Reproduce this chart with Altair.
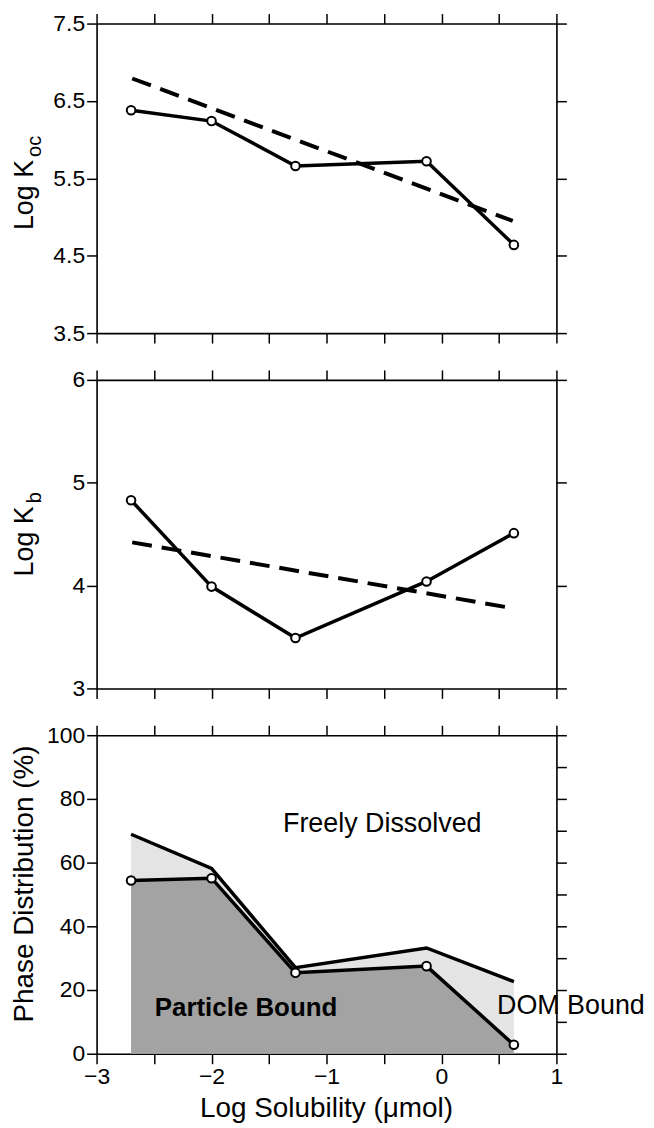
import altair as alt
import pandas as pd

# ---------------- data ----------------
solubility = [-2.70, -2.00, -1.27, -0.13, 0.63]          # Log Solubility (umol)
log_koc = [6.38, 6.24, 5.66, 5.72, 4.64]
koc_fit_x = [-2.69, 0.62]
koc_fit_y = [6.79, 4.95]
log_kb = [4.83, 3.99, 3.49, 4.04, 4.51]
kb_fit_x = [-2.69, 0.62]
kb_fit_y = [4.42, 3.78]
particle_bound = [54.4, 55.1, 25.4, 27.5, 2.8]           # % particle bound
particle_plus_dom = [68.9, 58.2, 27.0, 33.2, 22.6]       # % particle + DOM bound
region_labels = ["Freely Dissolved", "Particle Bound", "DOM Bound"]
region_x = [-0.515, -1.70, 0.483]
region_y = [69.7, 11.9, 12.5]

x_ticks = [-3, -2.5, -2, -1.5, -1, -0.5, 0, 0.5, 1]
koc_ticks = [3.5, 4.5, 5.5, 6.5, 7.5]
kb_ticks = [3, 4, 5, 6]
phase_ticks_left = [0, 20, 40, 60, 80, 100]
phase_ticks_right = [0, 10, 20, 30, 40, 50, 60, 70, 80, 90, 100]

# ---------------- styling ----------------
FONT = "Liberation Sans"
W = 462
H_TOP, H_MID, H_BOT = 311, 310, 320
DARK = "#a3a3a3"
LIGHT = "#e4e4e4"

xs = alt.Scale(domain=[-3, 1], nice=False, zero=False)


def ax(orient, values, labels=False, fmt=None, label_size=23, label_expr=None):
    kw = dict(orient=orient, values=values, title=None, grid=False,
              domain=True, domainColor="black", domainWidth=1.6,
              ticks=True, tickColor="black", tickWidth=1.5, tickSize=10,
              labels=labels)
    if labels:
        kw.update(labelFont=FONT, labelFontSize=label_size, labelColor="black",
                  labelPadding=2, labelFlush=False, labelOverlap=False)
        if fmt:
            kw["format"] = fmt
        if label_expr:
            kw["labelExpr"] = label_expr
    return alt.Axis(**kw)


one = pd.DataFrame({"k": [0]})


def ytitle(main, sub, y_end):
    a = alt.Chart(one).mark_text(text=main, angle=270, align="right", baseline="alphabetic",
                                 font=FONT, fontSize=27, color="black").encode(
        x=alt.value(-64), y=alt.value(y_end))
    b = alt.Chart(one).mark_text(text=sub, angle=270, align="left", baseline="alphabetic",
                                 font=FONT, fontSize=20, color="black").encode(
        x=alt.value(-55.5), y=alt.value(y_end - 3))
    return [a, b]


def line_panel(xv, yv, fx, fy, ys, ticks, fmt, title_main, title_sub, title_end, h):
    df = pd.DataFrame({"x": xv, "y": yv})
    fit = pd.DataFrame({"x": fx, "y": fy})
    solid = alt.Chart(df).mark_line(color="black", strokeWidth=3.5).encode(
        x=alt.X("x:Q", scale=xs, axis=ax("bottom", x_ticks)),
        y=alt.Y("y:Q", scale=ys, axis=ax("left", ticks, labels=True, fmt=fmt)))
    dashed = alt.Chart(fit).mark_line(color="black", strokeWidth=4, strokeDash=[20, 10]).encode(
        x=alt.X("x:Q", scale=xs, axis=ax("top", x_ticks)),
        y=alt.Y("y:Q", scale=ys, axis=ax("right", ticks)))
    pts = alt.Chart(df).mark_point(shape="circle", filled=True, fill="white", stroke="black",
                                   strokeWidth=2, size=75, opacity=1).encode(
        x=alt.X("x:Q", scale=xs, axis=None),
        y=alt.Y("y:Q", scale=ys, axis=None))
    return alt.layer(dashed, solid, pts, *ytitle(title_main, title_sub, title_end)).resolve_axis(
        x="independent", y="independent").properties(width=W, height=h)


top = line_panel(solubility, log_koc, koc_fit_x, koc_fit_y,
                 alt.Scale(domain=[3.5, 7.5], nice=False, zero=False), koc_ticks, ".1f",
                 "Log K", "oc", 137, H_TOP)
mid = line_panel(solubility, log_kb, kb_fit_x, kb_fit_y,
                 alt.Scale(domain=[3, 6], nice=False, zero=False), kb_ticks, "d",
                 "Log K", "b", 127, H_MID)

# ---------------- bottom panel ----------------
phase_df = pd.DataFrame({"x": solubility, "particle": particle_bound, "total": particle_plus_dom})
ys_ph = alt.Scale(domain=[0, 100], nice=False, zero=False)
lab_df = pd.DataFrame({"label": region_labels, "x": region_x, "y": region_y})

dark = alt.Chart(phase_df).mark_area(color=DARK, opacity=1).encode(
    x=alt.X("x:Q", scale=xs, axis=ax("bottom", x_ticks, labels=True, label_size=23,
                                     label_expr="datum.value % 1 == 0 ? format(datum.value, 'd') : ''")),
    y=alt.Y("particle:Q", scale=ys_ph, axis=ax("left", phase_ticks_left, labels=True, fmt="d")))
light = alt.Chart(phase_df).mark_area(color=LIGHT, opacity=1).encode(
    x=alt.X("x:Q", scale=xs, axis=ax("top", x_ticks)),
    y=alt.Y("total:Q", scale=ys_ph, axis=ax("right", phase_ticks_right)),
    y2="particle:Q")
total_line = alt.Chart(phase_df).mark_line(color="black", strokeWidth=3.5).encode(
    x=alt.X("x:Q", scale=xs, axis=None), y=alt.Y("total:Q", scale=ys_ph, axis=None))
part_line = alt.Chart(phase_df).mark_line(color="black", strokeWidth=3.5).encode(
    x=alt.X("x:Q", scale=xs, axis=None), y=alt.Y("particle:Q", scale=ys_ph, axis=None))
part_pts = alt.Chart(phase_df).mark_point(shape="circle", filled=True, fill="white", stroke="black",
                                          strokeWidth=2, size=75, opacity=1).encode(
    x=alt.X("x:Q", scale=xs, axis=None), y=alt.Y("particle:Q", scale=ys_ph, axis=None))

txt_free = alt.Chart(lab_df).transform_filter(alt.datum.label == "Freely Dissolved").mark_text(
    align="center", baseline="alphabetic", font=FONT, fontSize=27, color="black").encode(
    x=alt.X("x:Q", scale=xs, axis=None), y=alt.Y("y:Q", scale=ys_ph, axis=None), text="label:N")
txt_part = alt.Chart(lab_df).transform_filter(alt.datum.label == "Particle Bound").mark_text(
    align="center", baseline="alphabetic", font=FONT, fontSize=26, fontWeight="bold", color="black").encode(
    x=alt.X("x:Q", scale=xs, axis=None), y=alt.Y("y:Q", scale=ys_ph, axis=None), text="label:N")
txt_dom = alt.Chart(lab_df).transform_filter(alt.datum.label == "DOM Bound").mark_text(
    align="left", baseline="alphabetic", font=FONT, fontSize=27, color="black").encode(
    x=alt.X("x:Q", scale=xs, axis=None), y=alt.Y("y:Q", scale=ys_ph, axis=None), text="label:N")

phase_title = alt.Chart(one).mark_text(text="Phase Distribution (%)", angle=270, align="center",
                                       baseline="alphabetic", font=FONT, fontSize=28,
                                       color="black").encode(x=alt.value(-64), y=alt.value(149.5))
x_title = alt.Chart(one).mark_text(text="Log Solubility (\u03bcmol)", align="center",
                                   baseline="alphabetic", font=FONT, fontSize=28,
                                   color="black").encode(x=alt.value(W / 2), y=alt.value(384))

bot = alt.layer(dark, light, total_line, part_line, part_pts, txt_free, txt_part, txt_dom,
                phase_title, x_title).resolve_axis(x="independent", y="independent").properties(
    width=W, height=H_BOT)

chart = alt.vconcat(top, mid, bot, spacing=22).properties(
    padding={"left": 2, "top": 1, "right": 0, "bottom": 0}
).configure_view(stroke=None).configure(font=FONT)

chart.save("out.html", embed_options={"renderer": "svg", "actions": False})
